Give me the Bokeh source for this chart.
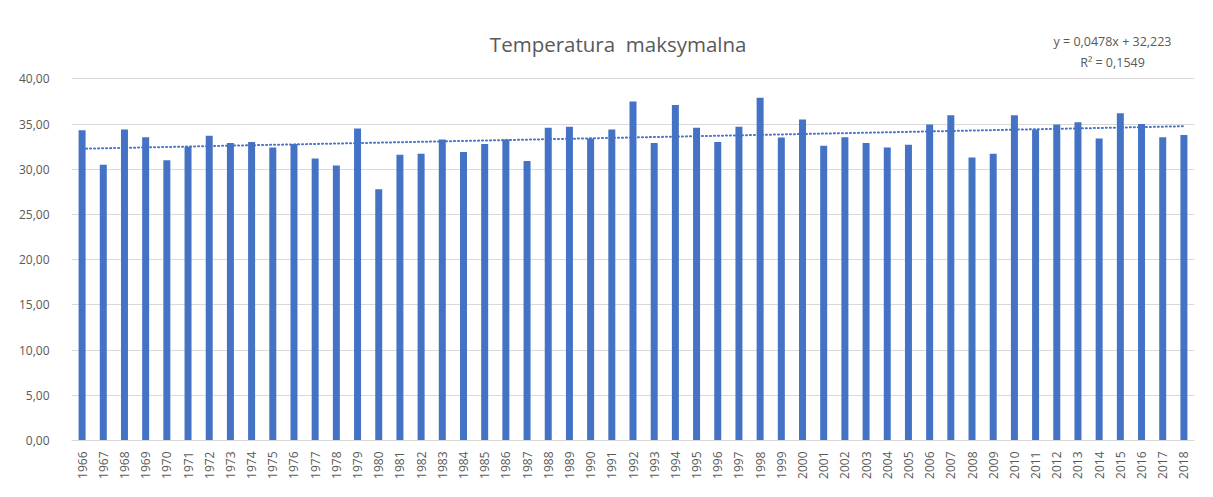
from bokeh.plotting import figure
from bokeh.models import ColumnDataSource, FixedTicker, Label, Range1d
from bokeh.embed import file_html
from bokeh.resources import INLINE

years = [str(y) for y in range(1966, 2019)]
tmax = [34.3, 30.5, 34.4, 33.55, 31.0, 32.5, 33.7, 32.9, 33.0, 32.4,
        32.8, 31.2, 30.4, 34.5, 27.8, 31.6, 31.7, 33.3, 31.9, 32.8,
        33.3, 30.9, 34.6, 34.7, 33.4, 34.4, 37.5, 32.9, 37.1, 34.6,
        33.0, 34.7, 37.9, 33.5, 35.5, 32.6, 33.55, 32.9, 32.4, 32.7,
        34.95, 35.96, 31.3, 31.7, 35.96, 34.4, 34.95, 35.2, 33.4, 36.2,
        35.0, 33.55, 33.8]
y_ticks = [0, 5, 10, 15, 20, 25, 30, 35, 40]
y_tick_labels = ["0,00", "5,00", "10,00", "15,00", "20,00", "25,00", "30,00", "35,00", "40,00"]
trend_slope = 0.0478
trend_intercept = 32.223
title_text = "Temperatura\u00a0 maksymalna"
eq_text = "y = 0,0478x + 32,223"
r2_text = "R² = 0,1549"

trend = [trend_slope * (i + 1) + trend_intercept for i in range(len(years))]

src = ColumnDataSource(dict(year=years, t=tmax, trend=trend))

TXT = "#595959"
GRID = "#d9d9d9"
BLUE = "#4472C4"
FONT = "Open Sans"

# frame extends above the 40 gridline so the title texts sit inside it
p = figure(x_range=years, y_range=Range1d(0, 46.45), width=1197, height=481,
           output_backend="svg", toolbar_location=None,
           min_border_left=71, min_border_right=3, min_border_top=20, min_border_bottom=36)
p.outline_line_color = None
p.background_fill_color = "white"
p.border_fill_color = "white"

p.vbar(x="year", top="t", width=0.33, source=src, color=BLUE, line_color=None)
p.line(x="year", y="trend", source=src, line_color=BLUE, line_width=2,
       line_dash="1 3", line_cap="round")

p.yaxis.ticker = FixedTicker(ticks=y_ticks)
p.yaxis.major_label_overrides = {t: l for t, l in zip(y_ticks, y_tick_labels)}
p.yaxis.axis_line_color = None
p.yaxis.major_tick_line_color = None
p.yaxis.minor_tick_line_color = None
p.yaxis.major_label_standoff = 16
p.yaxis.major_label_text_color = TXT
p.yaxis.major_label_text_font = FONT
p.yaxis.major_label_text_font_size = "12px"

p.xaxis.axis_line_color = GRID
p.xaxis.major_tick_line_color = None
p.xaxis.minor_tick_line_color = None
p.xaxis.major_label_orientation = 1.5708
p.xaxis.major_label_standoff = 5
p.xaxis.major_label_text_color = TXT
p.xaxis.major_label_text_font = FONT
p.xaxis.major_label_text_font_size = "12px"

p.xgrid.grid_line_color = None
p.ygrid.grid_line_color = GRID
p.ygrid.grid_line_width = 1

p.add_layout(Label(x=25.8, y=43.83, text=title_text, text_align="center",
                   text_baseline="middle", text_color=TXT, text_font=FONT,
                   text_font_size="20.5px"))
p.add_layout(Label(x=49.13, y=44.15, text=eq_text, text_align="center",
                   text_baseline="middle", text_color=TXT, text_font=FONT,
                   text_font_size="12.5px"))
p.add_layout(Label(x=49.13, y=41.75, text=r2_text, text_align="center",
                   text_baseline="middle", text_color=TXT, text_font=FONT,
                   text_font_size="12.5px"))

open("out.html", "w").write(file_html(p, INLINE))
